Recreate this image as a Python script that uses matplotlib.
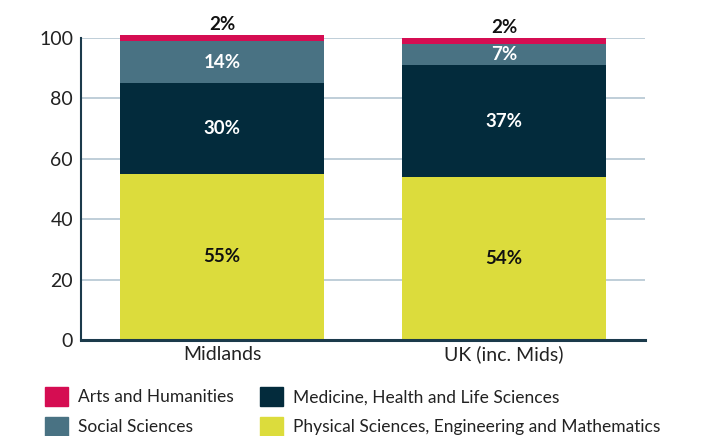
import matplotlib.pyplot as plt
import numpy as np
from matplotlib.patches import Patch

plt.rcParams['font.family'] = ['Lato', 'DejaVu Sans']

# data
regions = ['Midlands', 'UK (inc. Mids)']
physical = [55, 54]
medicine = [30, 37]
social = [14, 7]
arts = [2, 2]

series_names = ['Physical Sciences, Engineering and Mathematics',
                'Medicine, Health and Life Sciences',
                'Social Sciences',
                'Arts and Humanities']
colours = ['#dcdc3c', '#032b3c', '#497283', '#d50d52']
label_cols = ['#111111', 'white', 'white', None]

fig = plt.figure(figsize=(7.07, 4.36), dpi=100)
ax = fig.add_axes([0.115, 0.22, 0.797, 0.693])

x = np.arange(len(regions))
w = 0.724
bottom = np.zeros(len(regions))
for vals, col, lc in zip([physical, medicine, social, arts], colours, label_cols):
    vals = np.array(vals, dtype=float)
    ax.bar(x, vals, w, bottom=bottom, color=col, zorder=3, clip_on=False)
    for i in range(len(x)):
        if lc is None:
            ax.text(x[i], bottom[i] + vals[i] + 0.6, f'{int(vals[i])}%', ha='center',
                    va='bottom', fontsize=13.5, fontweight='bold', color='#111111')
        else:
            ax.text(x[i], bottom[i] + vals[i] / 2, f'{int(vals[i])}%', ha='center',
                    va='center', fontsize=13.5, fontweight='bold', color=lc, zorder=4)
    bottom += vals

ax.set_xlim(-0.5, 1.5)
ax.set_ylim(0, 100)
ax.set_yticks(np.arange(0, 101, 20))
ax.set_xticks(x)
ax.set_xticklabels(regions)
ax.tick_params(axis='both', labelsize=14, colors='#222222', length=0)
ax.tick_params(axis='x', pad=4)
ax.tick_params(axis='y', pad=6)
ax.grid(axis='y', color='#b4c6d2', linewidth=1.2, zorder=0)
for s in ['top', 'right']:
    ax.spines[s].set_visible(False)
ax.spines['left'].set_color('#1b3a4b')
ax.spines['left'].set_linewidth(1.5)
ax.spines['bottom'].set_color('#1b3a4b')
ax.spines['bottom'].set_linewidth(2.2)
ax.spines['bottom'].set_zorder(5)

# legend order as in the picture
handles = [Patch(color=colours[3]), Patch(color=colours[2]),
           Patch(color=colours[1]), Patch(color=colours[0])]
labels = [series_names[3], series_names[2], series_names[1], series_names[0]]
fig.legend(handles, labels, ncol=2, loc='lower left', bbox_to_anchor=(0.052, -0.02),
           frameon=False, fontsize=12.5, handlelength=1.3, handleheight=1.35,
           handletextpad=0.6, columnspacing=1.5, labelspacing=0.6,
           borderpad=0.0, labelcolor='#222222')

fig.savefig('out.png', dpi=100)
